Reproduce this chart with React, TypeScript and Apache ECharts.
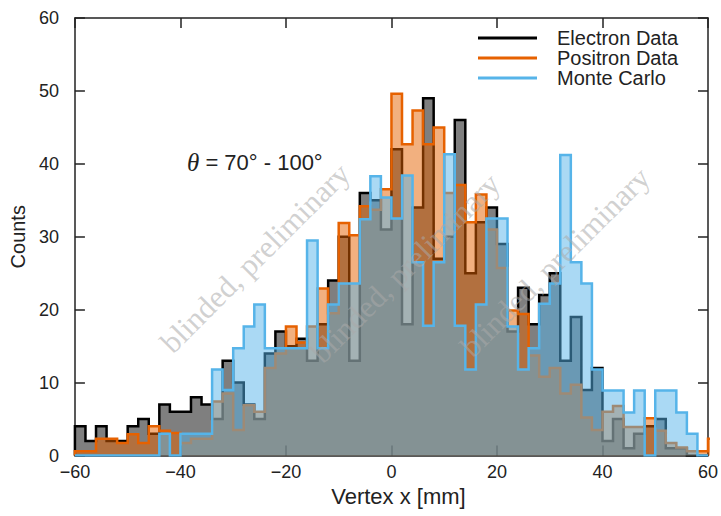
import { useEffect, useRef } from "react";
import * as echarts from "echarts";

// Histogram: 2 mm bins starting at -60 mm
const BIN_START = -60;
const BIN_WIDTH = 2;

const electronCounts = [
  4, 2, 4, 2, 2, 4, 5, 3, 7, 6,
  6, 8, 7, 5, 13, 10, 7, 5, 14, 17,
  15, 16, 13, 18, 24, 30, 13, 36, 35, 31,
  42, 18, 34, 49, 27, 30, 46, 25, 32, 34,
  29, 17, 23, 18, 22, 25, 13, 19, 9, 12,
  2, 5, 1, 3, 4, 5, 1, 1, 0, 0,
];

const positronCounts = [
  0.6, 0.6, 2.3, 2.3, 1.7, 2.9, 1.7, 4.0, 3.4, 3.1,
  1.7, 2.3, 2.3, 7.4, 8.5, 3.5, 6.9, 6.0, 12, 14,
  17.7, 15.5, 17.7, 22.9, 19.5, 31.9, 30.2, 34.2, 33.7, 36.5,
  49.6, 42.7, 47.3, 42.7, 45.0, 36.0, 37.1, 32.0, 35.8, 31,
  25.7, 19.9, 19.4, 13.7, 10.8, 12.0, 8.5, 9.7, 5.2, 3.5,
  6.0, 6.8, 3.9, 3.9, 5.1, 3.4, 1.7, 1.1, 0.6, 0.6,
  2.3,
];

const monteCarloCounts = [
  0, 0, 0, 0, 0, 0, 0, 0, 3.0, 0,
  3.0, 3.0, 3.0, 11.8, 9.0, 14.7, 17.7, 20.7, 14.7, 14.7,
  14.7, 14.7, 29.5, 14.7, 20.7, 23.6, 23.6, 32.4, 38.3, 35.4,
  32.5, 38.4, 26.5, 17.8, 26.5, 41.3, 17.8, 11.8, 20.7, 32.5,
  32.5, 17.7, 11.8, 14.7, 20.8, 23.6, 41.2, 26.5, 23.6, 11.8,
  8.9, 8.9, 5.9, 8.9, 0, 8.9, 8.9, 5.9, 3.0, 0,
];

const seriesNames = ["Electron Data", "Positron Data", "Monte Carlo"];
const xTicks = [-60, -40, -20, 0, 20, 40, 60];
const yTicks = [0, 10, 20, 30, 40, 50, 60];
const annotation = "{i|θ}{n| = 70° - 100°}";
const watermark = "blinded, preliminary";

function stepData(vals: number[]): number[][] {
  const pts: number[][] = [[BIN_START, 0]];
  vals.forEach((v, i) => pts.push([BIN_START + i * BIN_WIDTH, v]));
  const end = BIN_START + vals.length * BIN_WIDTH;
  pts.push([end, vals[vals.length - 1]]);
  pts.push([end, 0]);
  return pts;
}

const SANS = "'Liberation Sans', Arial, sans-serif";
const SERIF = "'Liberation Serif', 'Times New Roman', serif";
const AX = "#222222";

export default function App() {
  const ref = useRef<HTMLDivElement>(null);
  useEffect(() => {
    if (!ref.current) return;
    const chart = echarts.init(ref.current, null, { renderer: "svg" });
    const lineColors = ["#000000", "#e66100", "#56b4e9"];
    const fillColors = ["rgba(0,0,0,0.5)", "rgba(230,97,0,0.5)", "rgba(86,180,233,0.5)"];
    const datasets = [electronCounts, positronCounts, monteCarloCounts];

    const tickFmt = (v: number) => (v < 0 ? "\u2212" + Math.abs(v) : String(v));
    const xmin = xTicks[0], xmax = xTicks[xTicks.length - 1];
    const ymin = yTicks[0], ymax = yTicks[yTicks.length - 1];
    const xInt = xTicks[1] - xTicks[0];
    const yInt = yTicks[1] - yTicks[0];

    const baseAxis = {
      type: "value" as const,
      axisLine: { show: true, onZero: false, lineStyle: { color: AX, width: 1.5 } },
      axisTick: { show: true, inside: true, length: 10, lineStyle: { color: AX, width: 1.5 } },
      splitLine: { show: false },
    };

    const option: any = {
      animation: false,
      backgroundColor: "#ffffff",
      grid: { left: 73, top: 18, width: 636, height: 437.5, containLabel: false },
      xAxis: [
        {
          ...baseAxis,
          position: "bottom",
          min: xmin, max: xmax, interval: xInt,
          axisLabel: { formatter: tickFmt, fontSize: 18, fontFamily: SANS, color: AX, margin: 7, showMinLabel: true, showMaxLabel: true },
          name: "Vertex x [mm]",
          nameLocation: "middle",
          nameGap: 29,
          nameTextStyle: { fontSize: 22, fontFamily: SANS, color: AX, padding: [0, 0, 0, 14] },
        },
        {
          ...baseAxis,
          position: "top",
          min: xmin, max: xmax, interval: xInt,
          axisLabel: { show: false },
        },
      ],
      yAxis: [
        {
          ...baseAxis,
          position: "left",
          min: ymin, max: ymax, interval: yInt,
          axisLabel: { fontSize: 18, fontFamily: SANS, color: AX, margin: 16, showMinLabel: true, showMaxLabel: true },
          name: "Counts",
          nameLocation: "middle",
          nameGap: 46,
          nameTextStyle: { fontSize: 20, fontFamily: SANS, color: AX },
        },
        {
          ...baseAxis,
          position: "right",
          min: ymin, max: ymax, interval: yInt,
          axisLabel: { show: false },
        },
      ],
      legend: {
        orient: "vertical",
        left: 473,
        top: 23,
        itemWidth: 59,
        itemHeight: 3,
        itemGap: 0,
        icon: "rect",
        selectedMode: false,
        data: seriesNames,
        textStyle: { fontSize: 20, fontFamily: SANS, color: AX, lineHeight: 19.5, padding: [0, 0, 0, 15] },
      },
      series: datasets.map((vals, i) => ({
        type: "line",
        name: seriesNames[i],
        xAxisIndex: 0,
        yAxisIndex: 0,
        data: stepData(vals),
        step: "end",
        symbol: "none",
        showSymbol: false,
        color: lineColors[i],
        itemStyle: { color: lineColors[i] },
        lineStyle: { color: lineColors[i], width: 2.5, join: "miter" },
        areaStyle: { color: fillColors[i], opacity: 1 },
        emphasis: { disabled: true },
        silent: true,
        clip: true,
        z: 2 + i,
      })),
      graphic: [
        {
          type: "text", x: 187, y: 162, z: 50, silent: true,
          style: {
            text: annotation,
            verticalAlign: "middle",
            rich: {
              i: { fontStyle: "italic", fontFamily: SERIF, fontSize: 25, fill: AX },
              n: { fontFamily: SANS, fontSize: 22, fill: AX },
            },
          },
        },
        ...[[255, 258], [405, 268], [555, 262]].map(([x, y]) => ({
          type: "text", x, y, rotation: Math.PI / 4, z: 100, silent: true,
          style: {
            text: watermark,
            fontSize: 31,
            fontFamily: SERIF,
            fill: "rgba(170,170,170,0.55)",
            align: "center",
            verticalAlign: "middle",
          },
        })),
      ],
    };
    chart.setOption(option);
    return () => chart.dispose();
  }, []);
  return (
    <div
      ref={ref}
      style={{ position: "fixed", left: 0, top: 0, width: 721, height: 516, background: "#fff" }}
    />
  );
}
